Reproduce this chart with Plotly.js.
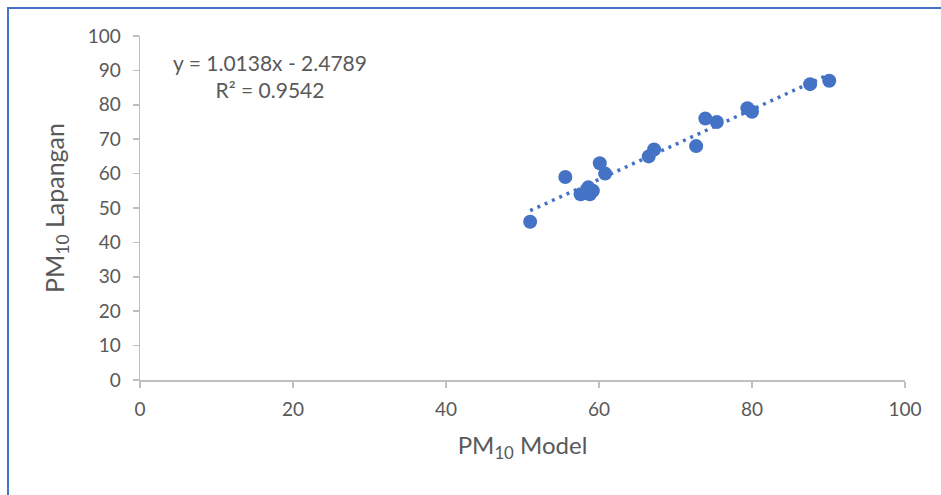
<!DOCTYPE html>
<html>
<head>
<meta charset="utf-8">
<script src="https://cdn.plot.ly/plotly-3.0.1.min.js"></script>
<style>
html,body{margin:0;padding:0;background:#fff;}
#frame{position:absolute;left:7px;top:7px;width:934px;height:488px;border-left:2px solid #4472C4;border-top:2px solid #4472C4;box-sizing:border-box;}
#chart{position:absolute;left:0;top:0;width:941px;height:495px;}
</style>
</head>
<body>
<div id="frame"></div>
<div id="chart"></div>
<script>
var pmModel = [51.0, 55.6, 57.6, 58.6, 58.8, 59.2, 60.1, 60.8, 66.5, 67.2, 72.7, 73.9, 75.4, 79.4, 80.0, 87.6, 90.1];
var pmLapangan = [46, 59, 54, 56, 54, 55, 63, 60, 65, 67, 68, 76, 75, 79, 78, 86, 87];
var slope = 1.0138, intercept = -2.4789;
var trendX = [51, 90];
var trendY = trendX.map(function(x){return slope * x + intercept;});
var xTicks = [0, 20, 40, 60, 80, 100];
var yTicks = [0, 10, 20, 30, 40, 50, 60, 70, 80, 90, 100];

var font = "Lato, 'Open Sans', sans-serif";
var traces = [
  {x: trendX, y: trendY, mode: 'lines', line: {color: '#4472C4', width: 3.5, dash: '3px,5px'}, hoverinfo: 'skip'},
  {x: pmModel, y: pmLapangan, mode: 'markers', marker: {color: '#4472C4', size: 14}}
];
var layout = {
  width: 941, height: 495,
  margin: {l: 140, r: 36, t: 36, b: 115},
  paper_bgcolor: 'rgba(0,0,0,0)', plot_bgcolor: 'rgba(0,0,0,0)',
  showlegend: false,
  font: {family: font, color: '#595959', size: 19},
  xaxis: {
    range: [0, 100], tickvals: xTicks, showgrid: false, zeroline: false,
    showline: true, linecolor: '#BFBFBF', linewidth: 1.5,
    ticks: 'outside', ticklen: 6, tickcolor: '#BFBFBF', tickwidth: 1.5,
    ticklabelstandoff: 6,
    title: {text: 'PM<sub>10</sub> Model', font: {size: 24, color: '#595959'}, standoff: 18}
  },
  yaxis: {
    range: [0, 100], tickvals: yTicks, showgrid: false, zeroline: false,
    showline: true, linecolor: '#BFBFBF', linewidth: 1.5,
    ticks: 'outside', ticklen: 6, tickcolor: '#BFBFBF', tickwidth: 1.5,
    ticklabelstandoff: 8,
    title: {text: 'PM<sub>10</sub> Lapangan', font: {size: 25, color: '#595959'}, standoff: 16}
  },
  annotations: [{
    x: 17, y: 88.4, xref: 'x', yref: 'y', showarrow: false, align: 'center',
    text: 'y = 1.0138x - 2.4789<br>R² = 0.9542',
    font: {size: 21, color: '#595959', family: font}
  }]
};
Plotly.newPlot('chart', traces, layout, {displayModeBar: false, staticPlot: true});
</script>
</body>
</html>
